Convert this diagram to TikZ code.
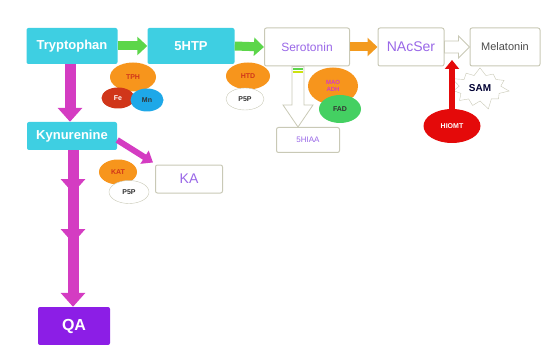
\documentclass[tikz,border=0pt]{standalone}
\usepackage{fontspec}
\setmainfont{Liberation Sans}
\usetikzlibrary{arrows.meta,shapes.geometric,shapes.symbols}
\definecolor{BoxCyan}{HTML}{3ECFE2}
\definecolor{BoxEdge}{HTML}{C9C9B6}
\definecolor{TextPurple}{HTML}{9A68E8}
\definecolor{QAPurple}{HTML}{8C1EE6}
\definecolor{ArrowGreen}{HTML}{5CD64A}
\definecolor{ArrowOrange}{HTML}{F39A1E}
\definecolor{ArrowMagenta}{HTML}{D43CC2}
\definecolor{EnzOrange}{HTML}{F7951C}
\definecolor{EnzRed}{HTML}{D0361A}
\definecolor{EnzBlue}{HTML}{1EA8E8}
\definecolor{EnzGreen}{HTML}{44D062}
\definecolor{HiomtRed}{HTML}{E40A0A}
\tikzstyle{ColorBox1} = [rectangle,rounded corners=2pt,fill=BoxCyan,text=white,font=\fontsize{13}{13}\selectfont\bfseries]
\tikzstyle{ColorBox2} = [rectangle,rounded corners=2pt,draw=BoxEdge,line width=1pt,fill=white,text=TextPurple]
\tikzstyle{ColorEnz} = [ellipse,inner sep=0pt,font=\fontsize{7}{7}\selectfont\bfseries]
\tikzstyle{ColorLine1} = [line width=9pt,ArrowGreen,-{Triangle[width=18pt,length=10pt]}]
\tikzstyle{ColorLine2} = [line width=9pt,ArrowOrange,-{Triangle[width=18pt,length=10pt]}]
\tikzstyle{ColorLine3} = [line width=11pt,ArrowMagenta,-{Triangle[width=24pt,length=14pt]}]
\tikzstyle{ColorLine4} = [line width=6pt,HiomtRed,-{Triangle[width=14pt,length=9pt]}]
\tikzstyle{ColorHollow} = [draw=BoxEdge,fill=white,line width=0.8pt,line join=miter]

\begin{document}
\begin{tikzpicture}[x=1pt,y=-1pt]
\useasboundingbox (0,0) rectangle (547,345);

% main pathway
\node[ColorBox1,minimum width=91pt,minimum height=36pt] (tryp) at (72,46) {Tryptophan};
\node[ColorBox1,minimum width=87pt,minimum height=36pt] (htp) at (191,46) {5HTP};
\node[ColorBox2,minimum width=85pt,minimum height=38pt,font=\fontsize{12}{12}\selectfont] (sero) at (307,47) {Serotonin};
\node[ColorBox2,minimum width=66pt,minimum height=38pt,font=\fontsize{14}{14}\selectfont] (nacser) at (411,47) {NAcSer};
\node[ColorBox2,minimum width=70pt,minimum height=38pt,text=black!70,font=\fontsize{11}{11}\selectfont] (mela) at (505,47) {Melatonin};

\draw[ColorLine1] (tryp.east) -- (htp.west);
\draw[ColorLine1] (htp.east) -- (sero.west);
\draw[ColorLine2] (sero.east) -- (nacser.west);
\draw[ColorHollow] ([yshift=6pt]nacser.east) -- ++(14,0) -- ++(0,-5) -- (mela.west) -- ++(-11,11) -- ++(0,-5) -- ([yshift=-6pt]nacser.east) -- cycle;

% enzymes and cofactors
\node[ColorEnz,fill=EnzOrange,text=EnzRed,minimum width=46pt,minimum height=29pt] (tph) at (133,77) {TPH};
\node[ColorEnz,fill=EnzRed,text=white,minimum width=33pt,minimum height=21pt] (fe) at (118,98) {Fe};
\node[ColorEnz,fill=EnzBlue,text=black!80,minimum width=33pt,minimum height=23pt] (mn) at (147,100) {Mn};
\node[ColorEnz,fill=EnzOrange,text=EnzRed,minimum width=44pt,minimum height=27pt] (htd) at (248,76) {HTD};
\node[ColorEnz,fill=white,draw=BoxEdge,text=black!80,minimum width=38pt,minimum height=22pt] (psp1) at (245,99) {P5P};

% serotonin breakdown
\node[ColorBox2,minimum width=63pt,minimum height=25pt,font=\fontsize{8}{8}\selectfont] (hiaa) at (308,140) {5HIAA};
\coordinate (st) at (sero.south -| 298,0);
\coordinate (sb) at (hiaa.north -| 298,0);
\draw[ColorHollow] ([xshift=-6pt]st) -- ([xshift=-6pt,yshift=22pt]sb) -- ([xshift=-15pt,yshift=22pt]sb) -- (sb) -- ([xshift=15pt,yshift=22pt]sb) -- ([xshift=6pt,yshift=22pt]sb) -- ([xshift=6pt]st) -- cycle;
\draw[ArrowGreen,line width=1.5pt] (293,69) -- (303,69);
\draw[yellow!80!green,line width=1.5pt] (293,72) -- (303,72);
\node[ColorEnz,fill=EnzOrange,text=ArrowMagenta,minimum width=50pt,minimum height=37pt,align=center,font=\fontsize{6}{7}\selectfont\bfseries] (mao) at (333,86) {MAO\\ADH};
\node[ColorEnz,fill=EnzGreen,text=black!80,minimum width=42pt,minimum height=28pt] (fad) at (340,109) {FAD};

% melatonin step
\node[starburst,draw=BoxEdge,fill=white,minimum width=62pt,minimum height=46pt,starburst points=11,starburst point height=10pt,text=black!80!blue,font=\fontsize{10}{10}\selectfont\bfseries] (sam) at (480,88) {SAM};
\node[ColorEnz,fill=HiomtRed,text=white,minimum width=57pt,minimum height=34pt] (hiomt) at (452,126) {HIOMT};
\coordinate (hit) at (452,60);
\draw[ColorLine4] (hiomt.north) -- (hit);

% kynurenine pathway
\node[ColorBox1,minimum width=90pt,minimum height=28pt] (kyn) at (72,136) {Kynurenine};
\node[rectangle,rounded corners=2pt,fill=QAPurple,text=white,font=\fontsize{16}{16}\selectfont\bfseries,minimum width=72pt,minimum height=38pt] (qa) at (74,326) {QA};
\node[ColorBox2,minimum width=67pt,minimum height=28pt,font=\fontsize{14}{14}\selectfont] (ka) at (189,179) {KA};

\draw[ColorLine3] (tryp.south -| 70,0) -- (kyn.north -| 70,0);
\coordinate (k1) at (73,193);
\coordinate (k2) at (73,243);
\draw[ColorLine3] (kyn.south -| 73,0) -- (k1);
\draw[ColorLine3] ([yshift=14pt]k1) -- (k2);
\draw[ColorLine3] ([yshift=14pt]k2) -- (qa.north -| 73,0);
\draw[line width=6pt,ArrowMagenta,-{Triangle[width=15pt,length=10pt]}] ([yshift=-4pt]kyn.east) -- ([xshift=-2pt,yshift=2pt]ka.north west);

\node[ColorEnz,fill=EnzOrange,text=EnzRed,minimum width=38pt,minimum height=25pt] (kat) at (118,172) {KAT};
\node[ColorEnz,fill=white,draw=BoxEdge,text=black!80,minimum width=40pt,minimum height=23pt] (psp2) at (129,192) {P5P};

\end{tikzpicture}
\end{document}
